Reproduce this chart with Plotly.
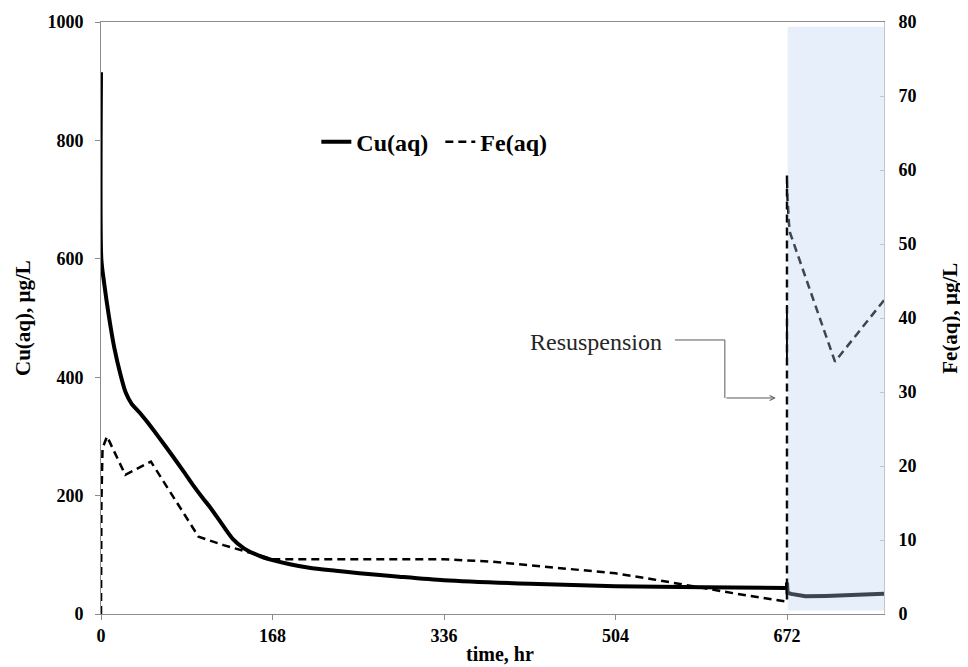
import plotly.graph_objects as go

# ---- data ----
cu_time = [0, 0.3, 3, 8, 13, 19, 24, 30, 38, 45, 56, 68, 80, 90, 100, 107, 118, 129, 140, 150, 160,
           168, 185, 204, 230, 253, 292, 336, 420, 504, 590, 672]
cu_vals = [915, 600, 560, 500, 450, 405, 375, 355, 340, 325, 300, 272, 243, 218, 195, 180, 153, 127, 111, 102, 95,
           91, 84, 78, 73, 69, 63, 57, 51, 47, 45, 44]

cu_resus_time = [672, 672, 672.5, 676, 690, 710, 740, 767]
cu_resus_vals = [44, 53, 36, 34, 30, 30.5, 32.5, 34]

cu_spike_time = [672, 672]
cu_spike_vals = [522, 430]

fe_time = [0, 0.4, 1.5, 5.9, 23.8, 48.9, 95.5, 120, 143, 168, 250, 336, 380, 420, 460, 504,
           540, 580, 620, 672, 672, 672.4, 672.8, 673.3, 673.9, 675, 719, 767]
fe_vals = [0, 15, 22.4, 24.0, 18.8, 20.6, 10.45, 9.3, 8.4, 7.4, 7.4, 7.4, 7.1, 6.6, 6.1, 5.5,
           4.7, 3.7, 2.8, 1.66, 59.3, 56.5, 55.5, 53.5, 52.8, 51.5, 34.1, 42.4]

x_ticks = [0, 168, 336, 504, 672]
cu_ticks = [0, 200, 400, 600, 800, 1000]
fe_ticks = [0, 10, 20, 30, 40, 50, 60, 70, 80]

FONT = "Liberation Serif"
AX = "#8c8c8c"

fig = go.Figure()
fig.add_trace(go.Scatter(x=cu_time, y=cu_vals, name="Cu(aq)", mode="lines",
                         line=dict(color="black", width=4, shape="spline", smoothing=0.7), yaxis="y"))
fig.add_trace(go.Scatter(x=fe_time, y=fe_vals, name="Fe(aq)", mode="lines",
                         line=dict(color="black", width=2.5, dash="8px,5px"), yaxis="y2"))
fig.add_trace(go.Scatter(x=cu_resus_time, y=cu_resus_vals, mode="lines", showlegend=False,
                         line=dict(color="black", width=4), yaxis="y"))
fig.add_trace(go.Scatter(x=cu_spike_time, y=cu_spike_vals, mode="lines", showlegend=False,
                         line=dict(color="black", width=2), yaxis="y"))

# the page body adds an 8px offset, so the figure is 8px smaller in each direction
fig.update_layout(
    width=960, height=659,
    margin=dict(l=93, r=84, t=14, b=53),
    paper_bgcolor="white", plot_bgcolor="white",
    font=dict(family=FONT, color="black"),
    xaxis=dict(range=[0, 767], tickvals=x_ticks, showgrid=False, zeroline=False, automargin=False,
               showline=True, linecolor=AX, linewidth=1, mirror=True,
               ticks="outside", ticklen=5, tickcolor=AX,
               tickfont=dict(family=FONT, size=18, weight="bold")),
    yaxis=dict(range=[0, 1000], tickvals=cu_ticks, showgrid=False, zeroline=False, automargin=False,
               showline=True, linecolor=AX, linewidth=1,
               ticks="outside", ticklen=5, tickcolor=AX, ticklabelstandoff=8,
               tickfont=dict(family=FONT, size=18, weight="bold")),
    yaxis2=dict(range=[0, 80], tickvals=fe_ticks, overlaying="y", side="right", showgrid=False,
                zeroline=False, automargin=False, showline=True, linecolor="#c4c4c4", linewidth=1,
                ticks="inside", ticklen=4, tickcolor="#c4c4c4", ticklabelstandoff=10,
                tickfont=dict(family=FONT, size=18, weight="bold")),
    legend=dict(orientation="h", x=0.275, xanchor="left", y=0.797, yanchor="middle",
                bgcolor="rgba(0,0,0,0)", font=dict(family=FONT, size=24, weight="bold"),
                itemwidth=30, entrywidth=79, entrywidthmode="pixels"),
    showlegend=True,
)

# axis titles
title_font = dict(family=FONT, size=21, weight="bold", color="black")
fig.add_annotation(text="time, hr", xref="paper", yref="paper", x=0.51, y=-0.0676,
                   showarrow=False, xanchor="center", yanchor="middle",
                   font=dict(family=FONT, size=20, weight="bold", color="black"))
fig.add_annotation(text="Cu(aq), μg/L", xref="paper", yref="paper", x=-0.0996, y=0.5,
                   showarrow=False, textangle=-90, xanchor="center", yanchor="middle", font=title_font)
fig.add_annotation(text="Fe(aq), μg/L", xref="paper", yref="paper", x=1.084, y=0.5,
                   showarrow=False, textangle=-90, xanchor="center", yanchor="middle", font=title_font)

# shaded resuspension period (drawn above the lines, semi-transparent)
fig.add_shape(type="rect", xref="x", yref="y", x0=672.6, x1=767, y0=6, y1=992,
              fillcolor="rgba(179,206,239,0.335)", line=dict(width=0), layer="above")

# "Resuspension" label and connector
fig.add_annotation(x=485, y=36.8, xref="x", yref="y2", text="Resuspension", showarrow=False,
                   font=dict(family=FONT, size=24, color="#262626"), xanchor="center", yanchor="middle")
fig.add_shape(type="path", xref="x", yref="y2",
              path="M 562.1,37.03 L 611.1,37.03 L 611.1,29.19",
              line=dict(color="#595959", width=1))
fig.add_annotation(x=661, y=29.19, xref="x", yref="y2", ax=611.1, ay=29.19, axref="x", ayref="y2",
                   showarrow=True, arrowhead=5, arrowsize=1, arrowwidth=1, arrowcolor="#595959",
                   text="")

fig.write_html("out.html")
